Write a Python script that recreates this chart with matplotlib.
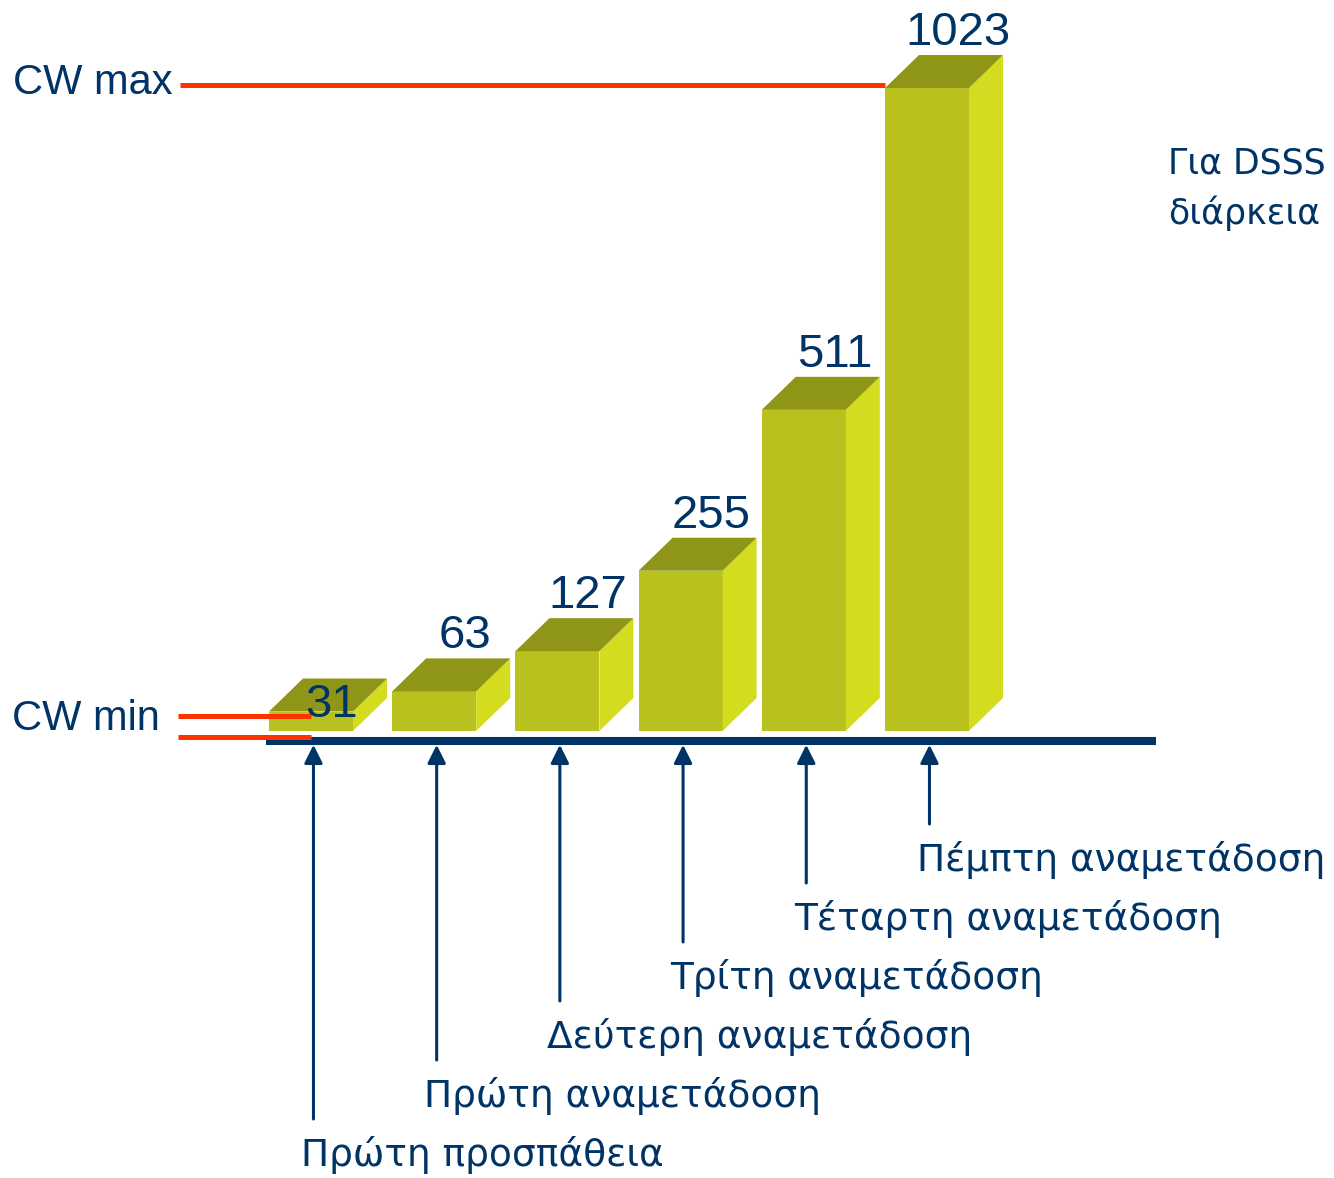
import matplotlib.pyplot as plt
from matplotlib.patches import Polygon

# Contention window per attempt
values = [31, 63, 127, 255, 511, 1023]
attempts = [
    'Πρώτη προσπάθεια',
    'Πρώτη αναμετάδοση',
    'Δεύτερη αναμετάδοση',
    'Τρίτη αναμετάδοση',
    'Τέταρτη αναμετάδοση',
    'Πέμπτη αναμετάδοση',
]
cw_min, cw_max = values[0], values[-1]
side_note = ['Για DSSS', 'διάρκεια']

NAVY = '#003366'
RED = '#FF3300'
FRONT = '#B8C11E'
SIDE = '#D4DC1F'
TOP = '#8E9517'

W, H = 1334, 1178
fig = plt.figure(figsize=(W / 100, H / 100), dpi=100)
ax = fig.add_axes([0, 0, 1, 1])

# scale: one bar slot = 123.2 px, one value unit = 0.6285 px
px_x, px_y = 123.2, 0.6285
ax.set_xlim(-311 / px_x, (W - 311) / px_x)
ax.set_ylim((731 - H) / px_y, 731 / px_y)
ax.axis('off')

bw = 84 / px_x          # front face width
dx = 34 / px_x          # depth offset
dy = 33 / px_y

for i, v in enumerate(values):
    x0, x1 = i - bw / 2, i + bw / 2
    ax.add_patch(Polygon([(x0, 0), (x1, 0), (x1, v), (x0, v)],
                         closed=True, fc=FRONT, ec='none', zorder=2))
    ax.add_patch(Polygon([(x1, 0), (x1 + dx, dy), (x1 + dx, v + dy), (x1, v)],
                         closed=True, fc=SIDE, ec='none', zorder=2))
    ax.add_patch(Polygon([(x0, v), (x1, v), (x1 + dx, v + dy), (x0 + dx, v + dy)],
                         closed=True, fc=TOP, ec='none', zorder=2))
    if i == 0:
        lx, ly = i + dx * 0.6, v - 8
    else:
        lx, ly = i + dx * 0.9, v + dy + 16
    ax.text(lx, ly, str(v), ha='center', va='baseline',
            fontsize=34, color=NAVY, family='Liberation Sans', zorder=4)

# baseline
base = -16
ax.plot([-45 / px_x, (1156 - 311) / px_x], [base, base], color=NAVY, lw=5.8,
        solid_capstyle='butt', zorder=3)

# CW max / CW min markers
ax.plot([(180 - 311) / px_x, len(values) - 1 - bw / 2], [cw_max + 5, cw_max + 5],
        color=RED, lw=3.6, solid_capstyle='butt', zorder=1)
ax.plot([(178 - 311) / px_x, 0], [cw_min - 7, cw_min - 7],
        color=RED, lw=3.6, solid_capstyle='butt', zorder=3)
ax.plot([(178 - 311) / px_x, 0], [-10, -10],
        color=RED, lw=3.6, solid_capstyle='butt', zorder=3)
ax.text((13 - 311) / px_x, cw_max + 8, 'CW max', ha='left', va='center',
        fontsize=30, color=NAVY, family='Liberation Sans')
ax.text((12 - 311) / px_x, cw_min - 12, 'CW min', ha='left', va='center',
        fontsize=30, color=NAVY, family='Liberation Sans')

# arrows from each attempt label up to its bar
lab0 = (731 - 1155) / px_y
step = 59 / px_y
for i, name in enumerate(attempts):
    ly = lab0 + i * step
    ax.annotate('', xy=(i + 0.02, base - 6), xytext=(i + 0.02, ly + 36 / px_y),
                arrowprops=dict(arrowstyle='-|>,head_length=1.1,head_width=0.55',
                                color=NAVY, lw=2.2, shrinkA=0, shrinkB=0))
    ax.text(i - 10 / px_x, ly, name, ha='left', va='center',
            fontsize=27, color=NAVY, family='DejaVu Sans')

for k, line in enumerate(side_note):
    ax.text((1168 - 311) / px_x, (731 - 163 - 50 * k) / px_y, line,
            ha='left', va='center', fontsize=25, color=NAVY, family='DejaVu Sans')

fig.savefig('out.png', dpi=100)
